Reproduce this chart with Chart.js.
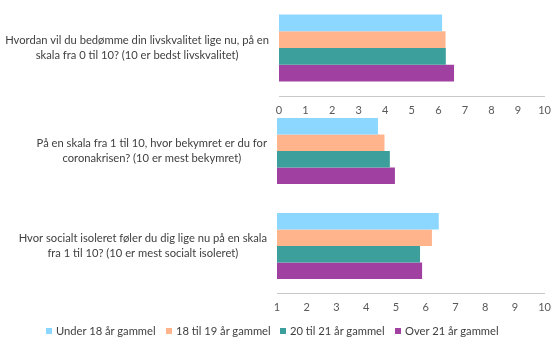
<!DOCTYPE html>
<html>
<head>
<meta charset="utf-8">
<script src="https://cdn.jsdelivr.net/npm/chart.js@4"></script>
<style>
  body { margin: 0; background: #fff; }
  #wrap { position: relative; width: 559px; height: 344px; overflow: hidden; }
  canvas { position: absolute; left: 0; }
  #legend { position: absolute; top: 323px; left: 0; width: 559px; height: 16px;
    font: 11.2px Lato, "Open Sans", sans-serif; color: #404040; }
  .item { position: absolute; top: 0; white-space: nowrap; line-height: 16px; }
  .box { display: inline-block; width: 6px; height: 6px; margin-right: 4px; vertical-align: 1px; }
</style>
</head>
<body>
<div id="wrap">
  <canvas id="c1"></canvas>
  <canvas id="c2"></canvas>
  <canvas id="c3"></canvas>
  <div id="legend"></div>
</div>
<script>
"use strict";

const questions = [
  ["Hvordan vil du bedømme din livskvalitet lige nu, på en", "skala fra 0 til 10? (10 er bedst livskvalitet)"],
  ["På en skala fra 1 til 10, hvor bekymret er du for", "coronakrisen? (10 er mest bekymret)"],
  ["Hvor socialt isoleret føler du dig lige nu på en skala", "fra 1 til 10? (10 er mest socialt isoleret)"]
];
const seriesNames = ["Under 18 år gammel", "18 til 19 år gammel", "20 til 21 år gammel", "Over 21 år gammel"];
const livskvalitet = [6.14, 6.27, 6.28, 6.59];
const bekymret = [4.39, 4.61, 4.79, 4.96];
const isoleret = [6.44, 6.21, 5.81, 5.88];
const scaleMin = [0, 1, 1];
const scaleMax = 10;
const colors = ["#8CD7FF", "#FFB48C", "#3D9F9C", "#A040A0"];

const fontFamily = "Lato, 'Open Sans', sans-serif";
const legendX = [46, 166, 280, 395];

function makeChart(id, top, height, values, idx, showAxis, axisLeft) {
  const canvas = document.getElementById(id);
  canvas.style.top = top + "px";
  canvas.style.width = "559px";
  canvas.style.height = height + "px";
  canvas.width = 559;
  canvas.height = height;
  return new Chart(canvas.getContext("2d"), {
    type: "bar",
    data: {
      labels: [questions[idx]],
      datasets: seriesNames.map((name, i) => ({
        label: name,
        data: [values[i]],
        backgroundColor: colors[i],
        borderWidth: 0,
        barPercentage: 1,
        categoryPercentage: 0.7
      }))
    },
    options: {
      indexAxis: "y",
      responsive: false,
      animation: false,
      layout: { padding: { left: 0, right: 14, top: 0, bottom: 0 } },
      plugins: { legend: { display: false }, tooltip: { enabled: false } },
      scales: {
        x: {
          display: showAxis,
          min: scaleMin[idx],
          max: scaleMax,
          grid: { display: false, drawTicks: false },
          border: { display: true, color: "#C8C8C8", width: 1 },
          ticks: { stepSize: 1, padding: 8, color: "#595959", font: { family: fontFamily, size: 11 } },
          afterFit: s => { s.height = showAxis ? 26 : 0; }
        },
        y: {
          grid: { display: false, drawTicks: false },
          border: { display: false },
          ticks: { crossAlign: "center", padding: 10, color: "#404040", font: { family: fontFamily, size: 11.2, lineHeight: 1.4 } },
          afterFit: s => {
            s.width = axisLeft;
            s.paddingTop = 0;
            s.paddingBottom = 0;
          }
        }
      }
    }
  });
}

makeChart("c1", 0, 122, livskvalitet, 0, true, 279);
makeChart("c2", 104, 94, bekymret, 1, false, 277);
makeChart("c3", 199, 120, isoleret, 2, true, 277);

const legend = document.getElementById("legend");
seriesNames.forEach((name, i) => {
  const item = document.createElement("span");
  item.className = "item";
  item.style.left = legendX[i] + "px";
  const box = document.createElement("span");
  box.className = "box";
  box.style.background = colors[i];
  item.appendChild(box);
  item.appendChild(document.createTextNode(name));
  legend.appendChild(item);
});
</script>
</body>
</html>
